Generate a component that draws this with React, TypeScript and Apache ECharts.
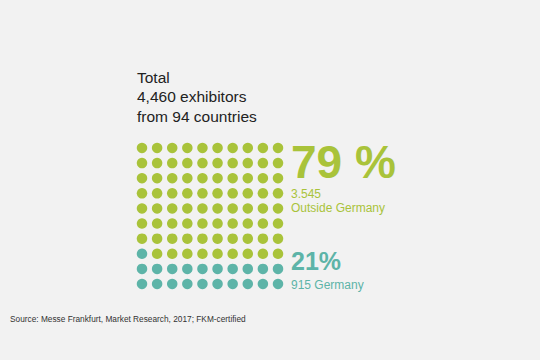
import React, { useEffect, useRef } from "react";
import * as echarts from "echarts";

const titleLines = ["Total", "4,460 exhibitors", "from 94 countries"];
const outsideShare = "79 %";
const outsideCount = "3.545";
const outsideLabel = "Outside Germany";
const germanyShare = "21%";
const germanyLabel = "915 Germany";
const sourceText = "Source: Messe Frankfurt, Market Research, 2017; FKM-certified";

const totalDots = 100;
const germanyDots = 21;
const gridCols = 10;

const GREEN = "#a9c33a";
const TEAL = "#5db4a8";

export default function App() {
  const ref = useRef<HTMLDivElement>(null);
  useEffect(() => {
    if (!ref.current) return;
    const chart = echarts.init(ref.current, undefined, { renderer: "svg" });
    const teal: number[][] = [];
    const green: number[][] = [];
    for (let i = 0; i < totalDots; i++) {
      const col = i % gridCols;
      const row = Math.floor(i / gridCols); // row 0 = bottom
      if (i < germanyDots) teal.push([col, row]);
      else green.push([col, row]);
    }
    const font = "'Liberation Sans', Arial, Helvetica, sans-serif";
    const t = (text: string, x: number, y: number, size: number, color: string, weight = "normal") => ({
      type: "text",
      x,
      y,
      style: {
        text,
        fill: color,
        font: `${weight} ${size}px ${font}`,
        verticalAlign: "middle",
        align: "left",
      },
    });
    chart.setOption({
      animation: false,
      backgroundColor: "#f2f2f2",
      grid: { left: 142, top: 148, width: 136, height: 136 },
      xAxis: { type: "value", min: 0, max: 9, show: false },
      yAxis: { type: "value", min: 0, max: 9, show: false },
      series: [
        {
          type: "scatter",
          data: green,
          symbolSize: 10.5,
          itemStyle: { color: GREEN, opacity: 1 },
          silent: true,
        },
        {
          type: "scatter",
          data: teal,
          symbolSize: 10.5,
          itemStyle: { color: TEAL, opacity: 1 },
          silent: true,
        },
      ],
      graphic: [
        t(titleLines[0], 137, 77.3, 15.5, "#222"),
        t(titleLines[1], 137, 96.7, 15.5, "#222"),
        t(titleLines[2], 137, 116, 15.5, "#222"),
        t(outsideShare, 291, 161.5, 46, GREEN, "bold"),
        t(outsideCount, 291, 194, 12, GREEN),
        t(outsideLabel, 291, 208.2, 12, GREEN),
        t(germanyShare, 291, 261, 25, TEAL, "bold"),
        t(germanyLabel, 291, 284.5, 12, TEAL),
        t(sourceText, 10, 319, 8.3, "#333"),
      ],
    });
    return () => chart.dispose();
  }, []);
  return <div ref={ref} style={{ width: 540, height: 360, position: "absolute", left: 0, top: 0 }} />;
}
